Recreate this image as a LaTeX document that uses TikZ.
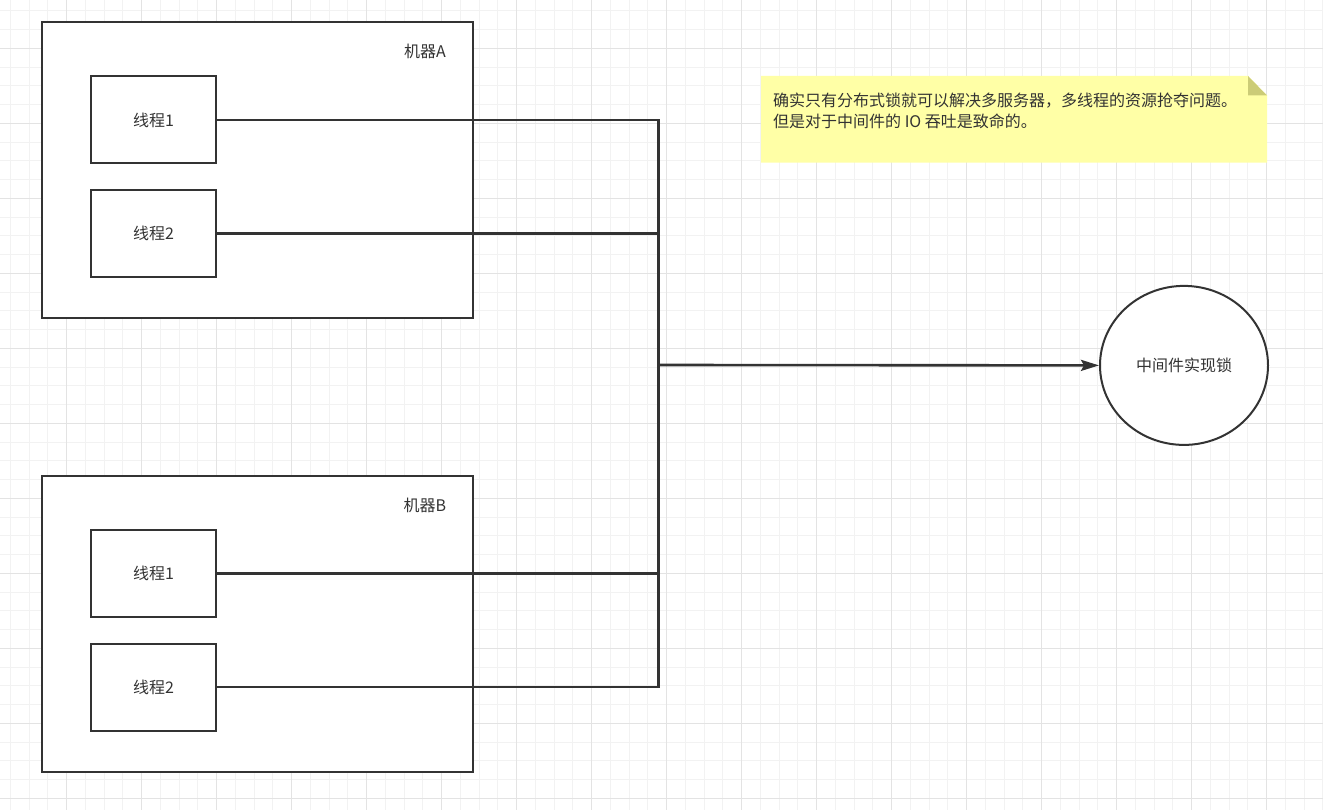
\documentclass[tikz,border=0pt]{standalone}
\usepackage{fontspec}
\setmainfont{Noto Sans CJK SC}
\usetikzlibrary{arrows.meta,shapes.geometric}
\definecolor{ink}{HTML}{333333}
\definecolor{gridminor}{HTML}{F2F2F2}
\definecolor{gridmajor}{HTML}{E3E3E3}
\definecolor{notefill}{HTML}{FFFFA6}
\definecolor{notefold}{HTML}{CCCC77}
\begin{document}
\begin{tikzpicture}[x=1pt,y=-1pt,
  box/.style={draw=ink,line width=2pt,fill=white,inner sep=0pt},
  thread/.style={box,minimum width=125pt,minimum height=87pt,font=\fontsize{16}{20}\selectfont,text=ink},
  machine/.style={box,minimum width=431pt,minimum height=296pt},
  wire/.style={draw=ink,line width=2.1pt},
  lbl/.style={font=\fontsize{16}{21}\selectfont,text=ink,inner sep=0pt}]
\useasboundingbox (0,0) rectangle (1323,810);
\fill[white] (0,0) rectangle (1323,810);
% grid
\foreach \k in {0,...,70} {
  \draw[gridminor,line width=1pt] ({10.4+18.75*\k},0) -- ({10.4+18.75*\k},810);
}
\foreach \k in {0,...,43} {
  \draw[gridminor,line width=1pt] (0,{10.8+18.75*\k}) -- (1323,{10.8+18.75*\k});
}
\foreach \k in {0,...,17} {
  \draw[gridmajor,line width=1pt] ({66.7+75*\k},0) -- ({66.7+75*\k},810);
}
\foreach \k in {0,...,10} {
  \draw[gridmajor,line width=1pt] (0,{48.3+75*\k}) -- (1323,{48.3+75*\k});
}
% machines
\node[machine] (mA) at (257.8,170.5) {};
\node[lbl] (mAlbl) at (425,51.7) {机器A};
\node[thread] (a1) at (153.5,120) {线程1};
\node[thread] (a2) at (153.5,233.5) {线程2};
\node[machine] (mB) at (257.8,624) {};
\node[lbl] (mBlbl) at (425,505.5) {机器B};
\node[thread] (b1) at (153.5,573.5) {线程1};
\node[thread] (b2) at (153.5,687) {线程2};
% lock
\node[ellipse,draw=ink,line width=2pt,fill=white,minimum width=168pt,minimum height=159pt,inner sep=0pt,font=\fontsize{16}{20}\selectfont,text=ink] (lock) at (1184,365.4) {中间件实现锁};
% connectors
\coordinate (J) at (658.5,365);
\draw[wire] (a1.east) -| (J);
\draw[wire] (a2.east) -| (J);
\draw[wire] (b1.east) -| (J);
\draw[wire] (b2.east) -| (J);
\draw[wire,line width=2.6pt,-{Stealth[length=18pt,width=11pt,inset=3pt]}] (J) -- (lock.west);
% note
\fill[notefill] (761,76) -- (1248,76) -- (1267,95.5) -- (1267,162.7) -- (761,162.7) -- cycle;
\fill[notefold] (1248,76) -- (1248,95.5) -- (1267,95.5) -- cycle;
\node[lbl,anchor=west,align=left] (notetext) at (773,110.5) {确实只有分布式锁就可以解决多服务器，多线程的资源抢夺问题。\\但是对于中间件的 IO 吞吐是致命的。};
\end{tikzpicture}
\end{document}
